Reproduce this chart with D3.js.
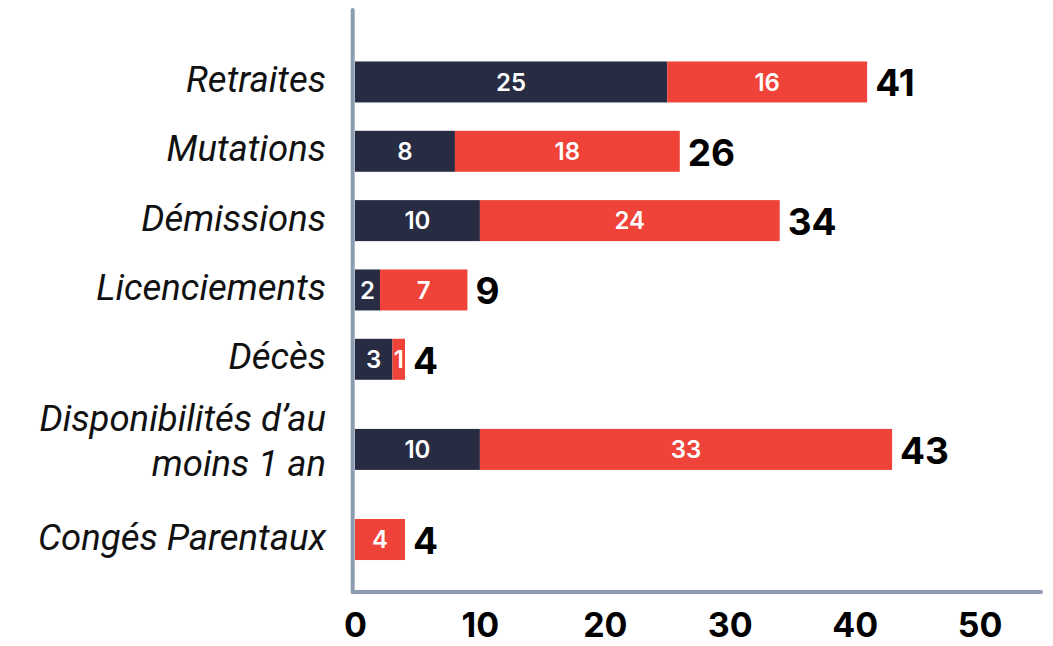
<!DOCTYPE html>
<html>
<head>
<meta charset="utf-8">
<script src="https://cdn.jsdelivr.net/npm/d3@7"></script>
<style>
    html, body { margin: 0; padding: 0; background: #fff; }
    svg { display: block; }
    .cat-label { font-family: Roboto, sans-serif; font-style: italic; font-size: 36.5px; fill: #111; }
    .seg-label { font-family: Inter, sans-serif; font-weight: 600; font-size: 24px; fill: #fff; }
    .total-label { font-family: Inter, sans-serif; font-weight: 700; font-size: 37px; fill: #000; }
    .tick text { font-family: Inter, sans-serif; font-weight: 700; font-size: 34px; fill: #000; }
</style>
</head>
<body>
<div id="chart"></div>
<script>
(function() {
    'use strict';

    // Data
    var categories = ["Retraites", "Mutations", "Démissions", "Licenciements", "Décès",
        "Disponibilités d’au\nmoins 1 an", "Congés Parentaux"];
    var darkValues = [25, 8, 10, 2, 3, 10, 0];
    var redValues = [16, 18, 24, 7, 1, 33, 4];
    var xTicks = [0, 10, 20, 30, 40, 50];

    var width = 1053, height = 646;
    var colors = { dark: "#272c42", red: "#ef4238", axis: "#8c9cb1" };

    var svg = d3.select("#chart").append("svg")
        .attr("width", width)
        .attr("height", height);

    // X scale
    var x = d3.scaleLinear()
        .domain([0, 55])
        .range([355, 1042]);

    // Y: rows with two-line labels get a bit more room
    var rows = [];
    var acc = 0;
    categories.forEach(function(c, i) {
        var lines = c.split("\n");
        var w = 1 + 0.6 * (lines.length - 1);
        rows.push({
            name: c,
            lines: lines,
            center: acc + w / 2,
            dark: darkValues[i],
            red: redValues[i],
            total: darkValues[i] + redValues[i]
        });
        acc += w;
    });
    var y = d3.scaleLinear()
        .domain([0, acc])
        .range([47.3, 574.2]);
    var barH = 41;

    // Bars
    var g = svg.append("g");
    var row = g.selectAll(".row")
        .data(rows)
        .enter()
        .append("g")
        .attr("class", "row")
        .attr("transform", function(d) { return "translate(0," + y(d.center) + ")"; });

    row.filter(function(d) { return d.dark > 0; })
        .append("rect")
        .attr("x", x(0))
        .attr("y", -barH / 2)
        .attr("width", function(d) { return x(d.dark) - x(0); })
        .attr("height", barH)
        .attr("fill", colors.dark);

    row.filter(function(d) { return d.red > 0; })
        .append("rect")
        .attr("x", function(d) { return x(d.dark); })
        .attr("y", -barH / 2)
        .attr("width", function(d) { return x(d.total) - x(d.dark); })
        .attr("height", barH)
        .attr("fill", colors.red);

    // Segment labels
    row.filter(function(d) { return d.dark > 0; })
        .append("text")
        .attr("class", "seg-label")
        .attr("x", function(d) { return (x(0) + x(d.dark)) / 2; })
        .attr("y", 0)
        .attr("dy", "0.36em")
        .attr("text-anchor", "middle")
        .text(function(d) { return d.dark; });

    row.filter(function(d) { return d.red > 0; })
        .append("text")
        .attr("class", "seg-label")
        .attr("x", function(d) { return (x(d.dark) + x(d.total)) / 2; })
        .attr("y", 0)
        .attr("dy", "0.36em")
        .attr("text-anchor", "middle")
        .text(function(d) { return d.red; });

    // Totals
    row.append("text")
        .attr("class", "total-label")
        .attr("x", function(d) { return x(d.total) + 8; })
        .attr("y", 1)
        .attr("dy", "0.36em")
        .text(function(d) { return d.total; });

    // Category labels
    var lineH = 45;
    row.append("text")
        .attr("class", "cat-label")
        .attr("text-anchor", "end")
        .each(function(d) {
            var t = d3.select(this);
            var n = d.lines.length;
            d.lines.forEach(function(l, i) {
                t.append("tspan")
                    .attr("x", 326)
                    .attr("y", -3 + (i - (n - 1) / 2) * lineH - (n > 1 ? 6 : 0))
                    .attr("dy", "0.36em")
                    .text(l);
            });
        });

    // Axes
    svg.append("line")
        .attr("x1", 352.7).attr("x2", 352.7)
        .attr("y1", 10).attr("y2", 592)
        .attr("stroke", colors.axis)
        .attr("stroke-width", 4)
        .attr("stroke-linecap", "round");
    svg.append("line")
        .attr("x1", 352.7).attr("x2", 1041)
        .attr("y1", 592).attr("y2", 592)
        .attr("stroke", colors.axis)
        .attr("stroke-width", 4)
        .attr("stroke-linecap", "round");

    var xAxis = d3.axisBottom(x)
        .tickValues(xTicks)
        .tickSize(0)
        .tickFormat(d3.format("d"));
    var axG = svg.append("g")
        .attr("transform", "translate(0,592)")
        .call(xAxis);
    axG.select(".domain").remove();
    axG.selectAll("text")
        .attr("y", 45)
        .attr("dy", 0);

})();
</script>
</body>
</html>
